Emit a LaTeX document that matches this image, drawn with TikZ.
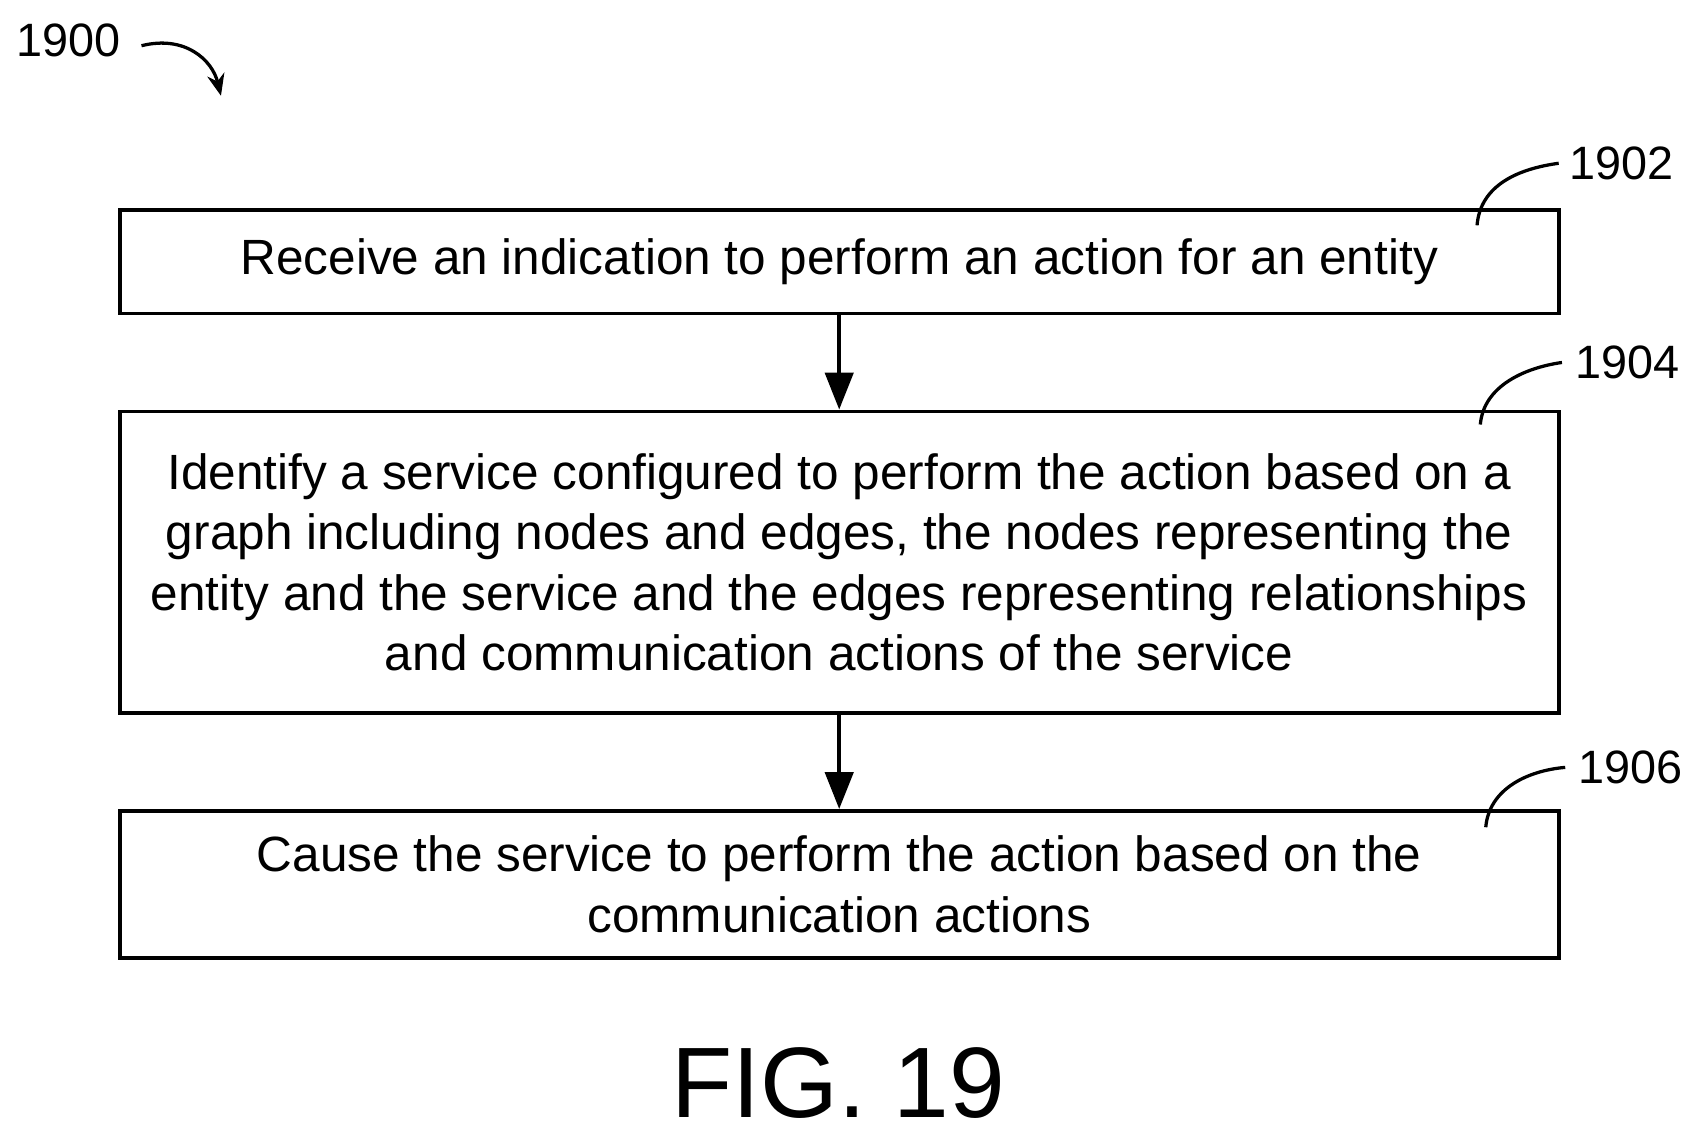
\documentclass[tikz,border=0pt]{standalone}
\usepackage{fontspec}
\setmainfont{Liberation Sans}
\usetikzlibrary{arrows.meta}
\begin{document}
\begin{tikzpicture}[x=1pt,y=-1pt,
  box/.style={draw,line width=3.5pt,inner sep=0pt},
  txt/.style={align=center,font=\fontsize{45.5}{55.5}\selectfont},
  lbl/.style={font=\fontsize{43}{50}\selectfont,anchor=west,inner sep=0pt},
  conn/.style={line width=3.5pt,-{Triangle[length=34pt,width=26pt]}},
  lead/.style={line width=3pt}]
\useasboundingbox (0,0) rectangle (1560,1045);
\node[box,minimum width=1322pt,minimum height=95pt] (b1) at (771,240.5) {};
\node[txt] at (b1) {Receive an indication to perform an action for an entity};
\node[box,minimum width=1322pt,minimum height=277pt] (b2) at (771,516.5) {};
\node[txt] at (b2) {Identify a service configured to perform the action based on a\\graph including nodes and edges, the nodes representing the\\entity and the service and the edges representing relationships\\and communication actions of the service};
\node[box,minimum width=1322pt,minimum height=135pt] (b3) at (771,812.5) {};
\node[txt] at (b3) {Cause the service to perform the action based on the\\communication actions};
\draw[conn] (b1.south) -- (b2.north);
\draw[conn] (b2.south) -- (b3.north);
\node[font=\fontsize{92}{100}\selectfont] (fig) at (770,995) {FIG. 19};
\node[lbl] (l1900) at (15,37) {1900};
\coordinate (a0) at (130,42);
\coordinate (a1) at (203,88);
\draw[line width=3pt,-{Stealth[length=20pt,width=16pt]}] (a0) .. controls (170,32) and (195,55) .. (a1);
\node[lbl] (l1902) at (1442,150) {1902};
\coordinate (c2) at (1357,207);
\draw[lead] (c2) .. controls (1360,170) and (1395,155) .. ([xshift=-10pt]l1902.west);
\node[lbl] (l1904) at (1447,333) {1904};
\coordinate (c4) at (1360,390);
\draw[lead] (c4) .. controls (1363,355) and (1400,338) .. ([xshift=-12pt]l1904.west);
\node[lbl] (l1906) at (1450,705) {1906};
\coordinate (c6) at (1365,760);
\draw[lead] (c6) .. controls (1368,725) and (1403,708) .. ([xshift=-12pt]l1906.west);
\end{tikzpicture}
\end{document}
